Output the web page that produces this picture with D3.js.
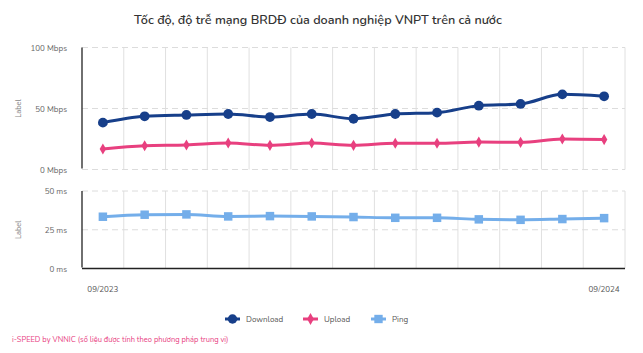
<!DOCTYPE html>
<html><head><meta charset="utf-8">
<script src="https://cdn.jsdelivr.net/npm/d3@7"></script>
<style>body{margin:0;background:#fff;}svg{display:block;font-family:"Nunito","Open Sans",Lato,sans-serif;}</style>
</head><body><svg id="c" width="643" height="353"></svg>
<script>
const months = ["09/2023","10/2023","11/2023","12/2023","01/2024","02/2024","03/2024","04/2024","05/2024","06/2024","07/2024","08/2024","09/2024"];
const download = [38.4,43.6,44.7,45.5,43.0,45.5,41.6,45.5,46.6,52.3,53.7,61.6,60.0];
const upload = [16.8,19.5,20.1,21.7,19.8,21.7,19.8,21.5,21.5,22.5,22.3,25.0,24.5];
const ping = [33.4,34.7,34.9,33.6,33.8,33.6,33.2,32.7,32.7,31.7,31.4,31.9,32.5];
const speedTicks = [0,50,100];
const pingTicks = [0,25,50];
const shownX = ["09/2023","09/2024"];

const svg = d3.select("#c");
const L = 82, R = 625;
const x = d3.scaleBand().domain(months).range([L,R]);
const cx = d => x(d)+x.bandwidth()/2;
const yS = d3.scaleLinear().domain([0,100]).range([169.5,47.5]);
const yP = d3.scaleLinear().domain([0,50]).range([268.5,191]);

svg.append("text").attr("x",318).attr("y",24).attr("text-anchor","middle")
  .attr("font-size",12.6).attr("font-weight",600).attr("fill","#333").text("Tốc độ, độ trễ mạng BRDĐ của doanh nghiệp VNPT trên cả nước");

function panel(y, ticks, unit, top, bottom, bottomSolid){
  const g = svg.append("g");
  months.forEach((m,i)=>{ if(i>0) g.append("line").attr("x1",x(m)).attr("x2",x(m)).attr("y1",y(top)).attr("y2",y(bottom)).attr("stroke","#e0e0e0"); });
  g.append("line").attr("x1",R).attr("x2",R).attr("y1",y(top)).attr("y2",y(bottom)).attr("stroke","#e0e0e0");
  ticks.forEach(t=>{
    if(!(bottomSolid && t===bottom))
      g.append("line").attr("x1",L).attr("x2",R).attr("y1",y(t)).attr("y2",y(t)).attr("stroke","#dcdcdc").attr("stroke-dasharray","6,4");
    g.append("text").attr("x",67).attr("y",y(t)+3).attr("text-anchor","end").attr("font-size",8).attr("fill","#666").text(t+" "+unit);
  });
  g.append("line").attr("x1",L).attr("x2",L).attr("y1",y(top)).attr("y2",y(bottom)-1).attr("stroke","#222").attr("stroke-width",1.3);
  if(bottomSolid) g.append("line").attr("x1",L).attr("x2",R).attr("y1",y(bottom)).attr("y2",y(bottom)).attr("stroke","#222").attr("stroke-width",1.3);
  const my = (y(top)+y(bottom))/2;
  g.append("text").attr("transform",`translate(21,${my}) rotate(-90)`).attr("text-anchor","middle").attr("font-size",7.5).attr("fill","#888").text("Label");
}
panel(yS, speedTicks, "Mbps", 100, 0, false);
panel(yP, pingTicks, "ms", 50, 0, true);

function series(data, y, color, sym, size){
  const line = d3.line().x((d,i)=>cx(months[i])).y(d=>y(d)).curve(d3.curveMonotoneX);
  svg.append("path").datum(data).attr("d",line).attr("fill","none").attr("stroke",color).attr("stroke-width",3);
  svg.append("g").selectAll("path").data(data).join("path")
    .attr("transform",(d,i)=>`translate(${cx(months[i])},${y(d)})`)
    .attr("d",d3.symbol().type(sym).size(size)).attr("fill",color);
}
const cD="#173f8a", cU="#e8407f", cP="#74aeea";
series(download, yS, cD, d3.symbolCircle, 75);
series(upload, yS, cU, d3.symbolDiamond, 36);
series(ping, yP, cP, d3.symbolSquare, 72);

shownX.forEach(m=>{
  svg.append("text").attr("x",cx(m)).attr("y",292).attr("text-anchor","middle").attr("font-size",8).attr("fill","#555").text(m);
});

const leg = [["Download",cD,d3.symbolCircle,70,225],["Upload",cU,d3.symbolDiamond,40,303],["Ping",cP,d3.symbolSquare,70,371]];
leg.forEach(([n,c,s,sz,lx])=>{
  svg.append("line").attr("x1",lx).attr("x2",lx+15).attr("y1",319).attr("y2",319).attr("stroke",c).attr("stroke-width",3);
  svg.append("path").attr("transform",`translate(${lx+7.5},319)`).attr("d",d3.symbol().type(s).size(sz)).attr("fill",c);
  svg.append("text").attr("x",lx+21).attr("y",322).attr("font-size",8).attr("fill","#555").text(n);
});

svg.append("text").attr("x",12).attr("y",342).attr("font-size",7.5).attr("fill","#e8407f").text("i-SPEED by VNNIC (số liệu được tính theo phương pháp trung vị)");
</script></body></html>
